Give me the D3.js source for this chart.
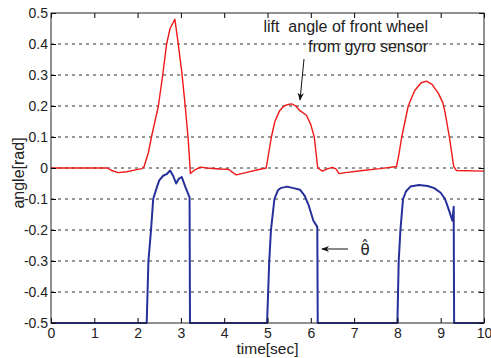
<!DOCTYPE html>
<html>
<head>
<meta charset="utf-8">
<script src="https://cdn.jsdelivr.net/npm/d3@7"></script>
<style>
  body { margin: 0; background: #fff; }
  text { font-family: "Liberation Sans", Arial, sans-serif; fill: #222; }
</style>
</head>
<body>
<script>
// lift angle from gyro sensor (red)
const liftT = [0, 1.3, 1.4, 1.55, 1.75, 1.95, 2.1, 2.15, 2.25, 2.32, 2.4, 2.48, 2.58, 2.67, 2.75, 2.86, 2.92, 3.02, 3.1, 3.17, 3.22, 3.3, 3.45, 3.6, 3.9, 4.1, 4.2, 4.28, 4.5, 4.8, 4.97, 5.09, 5.17, 5.28, 5.38, 5.48, 5.56, 5.65, 5.75, 5.9, 6.0, 6.08, 6.16, 6.27, 6.38, 6.5, 6.58, 6.65, 6.8, 7.2, 7.6, 7.98, 8.03, 8.1, 8.25, 8.4, 8.55, 8.67, 8.8, 8.95, 9.05, 9.1, 9.2, 9.3, 9.36, 10]
const liftV = [0, 0, -0.008, -0.015, -0.012, -0.006, -0.002, 0.005, 0.05, 0.1, 0.15, 0.2, 0.3, 0.4, 0.45, 0.48, 0.42, 0.31, 0.2, 0.09, -0.018, -0.008, 0.003, 0, -0.003, -0.004, -0.015, -0.022, -0.015, -0.005, 0, 0.1, 0.15, 0.185, 0.2, 0.205, 0.207, 0.2, 0.185, 0.17, 0.14, 0.1, 0, -0.01, -0.003, 0.002, -0.003, -0.018, -0.015, -0.008, -0.002, 0.005, 0.04, 0.1, 0.2, 0.25, 0.275, 0.28, 0.27, 0.24, 0.21, 0.18, 0.1, 0.005, -0.008, -0.01]

// estimated theta hat (blue)
const thetaT = [0, 2.21, 2.25, 2.31, 2.36, 2.45, 2.5, 2.59, 2.67, 2.75, 2.82, 2.89, 2.95, 3.02, 3.1, 3.2, 3.21, 4.99, 5.04, 5.08, 5.16, 5.24, 5.3, 5.45, 5.6, 5.75, 5.86, 5.95, 6.06, 6.15, 6.16, 8.0, 8.03, 8.07, 8.13, 8.2, 8.3, 8.5, 8.7, 8.85, 9.0, 9.1, 9.2, 9.27, 9.3, 9.31, 10]
const thetaV = [-0.5, -0.5, -0.3, -0.2, -0.1, -0.06, -0.04, -0.025, -0.02, -0.008, -0.025, -0.05, -0.035, -0.029, -0.06, -0.095, -0.5, -0.5, -0.3, -0.2, -0.1, -0.072, -0.065, -0.06, -0.065, -0.07, -0.09, -0.12, -0.17, -0.19, -0.5, -0.5, -0.3, -0.2, -0.1, -0.075, -0.06, -0.055, -0.058, -0.065, -0.08, -0.1, -0.14, -0.17, -0.125, -0.5, -0.5]

const xTicks = [0, 1, 2, 3, 4, 5, 6, 7, 8, 9, 10]
const yTicks = [-0.5, -0.4, -0.3, -0.2, -0.1, 0, 0.1, 0.2, 0.3, 0.4, 0.5]

const width = 491, height = 358
const margin = {top: 13, right: 7, bottom: 35, left: 51}

const svg = d3.select("body").append("svg")
    .attr("width", width)
    .attr("height", height)

const x = d3.scaleLinear().domain([0, 10]).range([margin.left, width - margin.right])
const y = d3.scaleLinear().domain([-0.5, 0.5]).range([height - margin.bottom, margin.top])

// dashed grid
svg.append("g")
    .selectAll("line")
    .data(yTicks.filter(d => d > -0.5 && d < 0.5))
    .join("line")
    .attr("x1", x(0)).attr("x2", x(10))
    .attr("y1", d => y(d)).attr("y2", d => y(d))
    .attr("stroke", "#333")
    .attr("stroke-width", 1)
    .attr("stroke-dasharray", "3,4")

const line = d3.line().x(d => x(d[0])).y(d => y(d[1]))

svg.append("path")
    .datum(liftT.map((t, i) => [t, liftV[i]]))
    .attr("fill", "none")
    .attr("stroke", "#f01818")
    .attr("stroke-width", 1.4)
    .attr("stroke-linejoin", "round")
    .attr("d", line)

svg.append("path")
    .datum(thetaT.map((t, i) => [t, thetaV[i]]))
    .attr("fill", "none")
    .attr("stroke", "#25309a")
    .attr("stroke-width", 2)
    .attr("stroke-linejoin", "round")
    .attr("d", line)

// axes
const xAxis = svg.append("g")
    .attr("transform", `translate(0,${y(-0.5)})`)
    .call(d3.axisBottom(x).tickValues(xTicks).tickSizeInner(-5).tickSizeOuter(0).tickPadding(5))
xAxis.select(".domain").remove()
xAxis.selectAll("text").attr("font-size", 14).attr("fill", "#222")

svg.append("g")
    .attr("transform", `translate(0,${y(0.5)})`)
    .call(d3.axisTop(x).tickValues(xTicks).tickSizeInner(-5).tickSizeOuter(0).tickFormat(""))
    .call(g => g.select(".domain").remove())

const yAxis = svg.append("g")
    .attr("transform", `translate(${x(0)},0)`)
    .call(d3.axisLeft(y).tickValues(yTicks).tickSizeInner(-5).tickSizeOuter(0).tickPadding(3)
        .tickFormat(d => d === 0 ? "0" : d.toFixed(1)))
yAxis.select(".domain").remove()
yAxis.selectAll("text").attr("font-size", 14).attr("fill", "#222")

svg.append("g")
    .attr("transform", `translate(${x(10)},0)`)
    .call(d3.axisRight(y).tickValues(yTicks).tickSizeInner(-5).tickSizeOuter(0).tickFormat(""))
    .call(g => g.select(".domain").remove())

// frame
svg.append("rect")
    .attr("x", x(0)).attr("y", y(0.5))
    .attr("width", x(10) - x(0)).attr("height", y(-0.5) - y(0.5))
    .attr("fill", "none")
    .attr("stroke", "#222")

svg.append("text")
    .attr("x", x(5)).attr("y", 354)
    .attr("text-anchor", "middle")
    .attr("font-size", 15.5)
    .text("time[sec]")

svg.append("text")
    .attr("transform", `translate(24,173) rotate(-90)`)
    .attr("text-anchor", "middle")
    .attr("font-size", 16)
    .text("angle[rad]")

// annotations
svg.append("defs").append("marker")
    .attr("id", "head")
    .attr("viewBox", "0 0 10 10")
    .attr("refX", 9).attr("refY", 5)
    .attr("markerWidth", 8).attr("markerHeight", 8)
    .attr("orient", "auto-start-reverse")
    .append("path")
    .attr("d", "M0,1 L10,5 L0,9 L3,5 Z")
    .attr("fill", "#111")

svg.append("text")
    .attr("x", 428).attr("y", 32)
    .attr("text-anchor", "end")
    .attr("font-size", 16)
    .attr("xml:space", "preserve")
    .style("white-space", "pre")
    .text("lift  angle of front wheel")

svg.append("text")
    .attr("x", 428).attr("y", 52)
    .attr("text-anchor", "end")
    .attr("font-size", 16)
    .text("from gyro sensor")

svg.append("line")
    .attr("x1", 304).attr("y1", 59)
    .attr("x2", 300).attr("y2", 100)
    .attr("stroke", "#111")
    .attr("marker-end", "url(#head)")

svg.append("line")
    .attr("x1", 348).attr("y1", 249)
    .attr("x2", 322).attr("y2", 249)
    .attr("stroke", "#111")
    .attr("marker-end", "url(#head)")

svg.append("text")
    .attr("x", 365).attr("y", 255)
    .attr("text-anchor", "middle")
    .attr("font-size", 15)
    .style("font-family", "'DejaVu Sans', sans-serif")
    .text("\u03B8\u0302")
</script>
</body>
</html>
